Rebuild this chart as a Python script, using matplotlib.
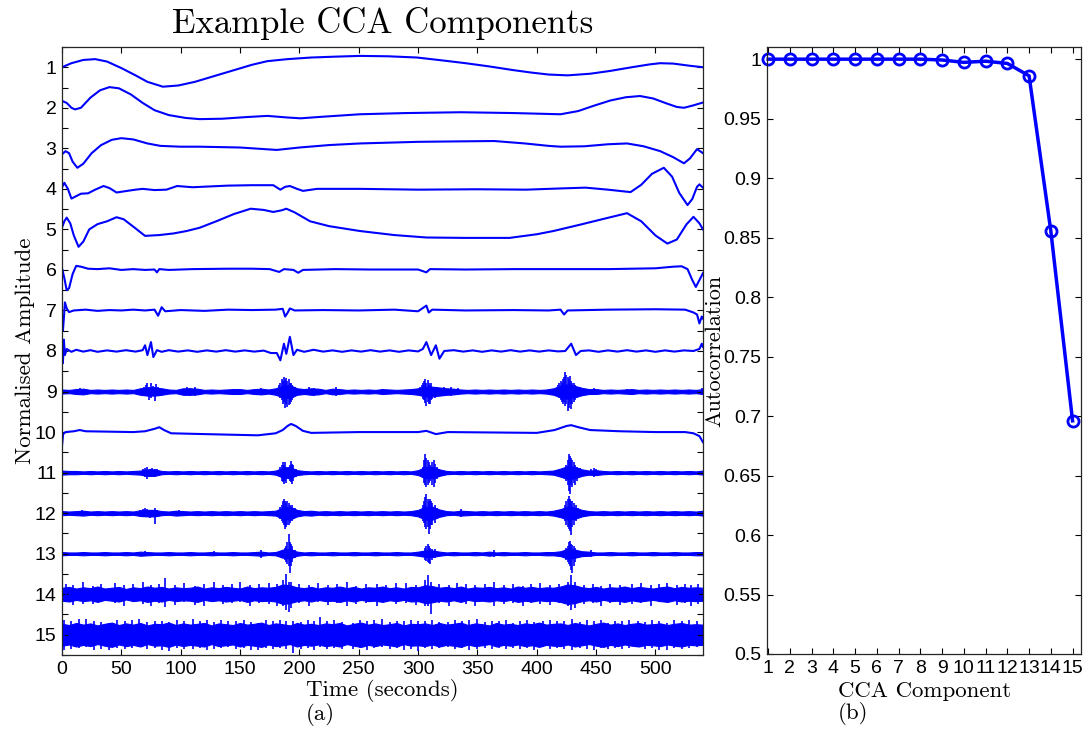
import numpy as np
import matplotlib
matplotlib.use("Agg")
import matplotlib.pyplot as plt
from matplotlib.ticker import MultipleLocator

BLUE = (0, 0, 1)
SERIF = "cmr10"

# ---- panel (a): CCA components, (time s, deviation) ----
tr1 = [(0, 0.0), (8, 0.1), (18, 0.18), (28, 0.2), (38, 0.14), (50, -0.02), (62, -0.2),
       (72, -0.36), (85, -0.48), (98, -0.45), (112, -0.36), (128, -0.22), (144, -0.08),
       (160, 0.06), (173, 0.15), (190, 0.2), (210, 0.24), (229, 0.26), (251, 0.28),
       (275, 0.27), (299, 0.24), (320, 0.17), (340, 0.1), (360, 0.02), (380, -0.07),
       (395, -0.13), (410, -0.18), (426, -0.2), (445, -0.16), (462, -0.09), (480, 0.0),
       (495, 0.07), (504, 0.1), (515, 0.09), (528, 0.04), (540, 0.0)]
tr2 = [(0, 0.17), (4, 0.12), (8, 0.0), (11, -0.04), (16, 0.0), (24, 0.25), (32, 0.43),
       (40, 0.51), (48, 0.48), (58, 0.33), (68, 0.12), (78, -0.06), (90, -0.18),
       (104, -0.25), (116, -0.28), (135, -0.27), (155, -0.23), (173, -0.2), (190, -0.24),
       (201, -0.26), (220, -0.22), (251, -0.16), (290, -0.13), (336, -0.11), (380, -0.13),
       (420, -0.16), (435, -0.08), (448, 0.05), (462, 0.18), (475, 0.26), (487, 0.29),
       (498, 0.23), (510, 0.1), (518, 0.02), (524, 0.0), (532, 0.06), (540, 0.13)]
tr3 = [(0, -0.15), (3, -0.07), (6, -0.12), (9, -0.33), (13, -0.48), (18, -0.38),
       (25, -0.12), (33, 0.08), (42, 0.21), (50, 0.25), (60, 0.22), (72, 0.12), (83, 0.06),
       (100, 0.04), (116, 0.04), (150, 0.02), (181, -0.04), (200, 0.02), (225, 0.08),
       (251, 0.12), (300, 0.16), (330, 0.17), (364, 0.18), (390, 0.12), (410, 0.06),
       (420, 0.04), (440, 0.05), (460, 0.1), (476, 0.12), (490, 0.05), (504, -0.07),
       (515, -0.22), (524, -0.37), (529, -0.25), (535, -0.02), (540, -0.12)]
tr4 = [(0, 0.03), (2, 0.15), (5, 0.0), (8, -0.24), (12, -0.18), (16, -0.12), (22, -0.11),
       (28, -0.02), (35, 0.07), (40, 0.02), (46, -0.09), (55, -0.05), (62, -0.02), (68, 0.0),
       (78, -0.03), (88, -0.02), (97, 0.07), (110, 0.04), (140, 0.08), (160, 0.09),
       (178, 0.09), (184, -0.02), (188, 0.05), (192, 0.07), (198, 0.0), (203, -0.05),
       (215, 0.0), (251, 0.0), (300, -0.02), (350, -0.01), (391, -0.02), (420, 0.01),
       (441, 0.03), (460, -0.02), (479, -0.08), (488, 0.1), (497, 0.37), (507, 0.52),
       (514, 0.3), (520, -0.1), (527, -0.4), (531, -0.25), (535, 0.05), (537, 0.11),
       (540, 0.03)]
tr5 = [(0, 0.04), (2, 0.2), (4, 0.29), (7, 0.15), (10, -0.15), (14, -0.43), (18, -0.3),
       (23, 0.0), (30, 0.13), (38, 0.2), (46, 0.3), (52, 0.25), (60, 0.07), (70, -0.16),
       (82, -0.14), (94, -0.1), (105, -0.04), (116, 0.04), (130, 0.2), (145, 0.38),
       (159, 0.51), (170, 0.48), (178, 0.43), (185, 0.47), (189, 0.51), (196, 0.42),
       (209, 0.2), (225, 0.08), (251, -0.04), (280, -0.14), (307, -0.2), (340, -0.21),
       (377, -0.21), (400, -0.12), (414, -0.04), (437, 0.12), (455, 0.25), (476, 0.4),
       (488, 0.2), (500, -0.15), (510, -0.35), (518, -0.25), (526, 0.12), (532, 0.31),
       (537, 0.15), (540, 0.0)]
tr6 = [(0, 0.05), (2, -0.2), (4, -0.5), (6, -0.45), (9, -0.1), (12, 0.1), (16, 0.08),
       (22, 0.03), (30, 0.02), (40, 0.04), (50, 0.0), (60, 0.02), (70, 0.0), (78, 0.01),
       (80, -0.06), (82, 0.02), (90, 0.0), (110, 0.02), (140, 0.03), (160, 0.03),
       (175, 0.02), (183, -0.05), (187, 0.02), (195, 0.0), (199, -0.07), (203, 0.0),
       (230, 0.02), (260, 0.01), (300, 0.01), (307, -0.06), (310, 0.02), (340, 0.01),
       (380, 0.02), (420, 0.02), (460, 0.02), (500, 0.04), (515, 0.08), (522, 0.09),
       (527, 0.02), (531, -0.25), (534, -0.42), (537, -0.25), (540, -0.08)]
tr7 = [(0, -0.1), (0.8, -0.5), (1.6, -0.2), (2.5, 0.2), (4, 0.05), (6, -0.04), (10, 0.0),
       (20, 0.02), (30, -0.01), (40, 0.01), (50, 0.0), (60, 0.02), (70, 0.0), (78, 0.02),
       (81, -0.13), (84, 0.08), (87, -0.02), (100, 0.01), (120, -0.01), (140, 0.02),
       (160, 0.01), (180, 0.02), (186, 0.04), (188, -0.15), (190, -0.06), (192, 0.05),
       (196, 0.0), (220, 0.01), (250, 0.0), (280, 0.02), (300, -0.02), (305, 0.08),
       (307, 0.12), (309, -0.05), (312, 0.02), (340, 0.0), (380, 0.01), (410, 0.0),
       (420, 0.02), (423, -0.1), (426, 0.0), (460, 0.02), (500, 0.03), (525, 0.02),
       (532, -0.05), (535, -0.1), (537, -0.32), (539, -0.15), (540, -0.2)]
tr8 = [(0, 0.0), (0.8, -0.3), (1.6, 0.28), (2.5, -0.1), (4, 0.05), (8, -0.02), (12, 0.03),
       (18, -0.015), (24, 0.02), (30, -0.02), (38, 0.015), (46, -0.015), (54, 0.02),
       (62, -0.015), (68, 0.02), (70, 0.14), (72, -0.1), (75, 0.22), (77, -0.15), (80, 0.02),
       (84, -0.02), (90, 0.02), (98, -0.015), (106, 0.015), (114, -0.02), (122, 0.015),
       (130, -0.015), (138, 0.02), (146, -0.015), (154, 0.015), (162, -0.015), (170, 0.01),
       (176, -0.05), (181, -0.05), (184, -0.23), (187, 0.18), (189, -0.07), (192, 0.35),
       (195, -0.1), (198, 0.03), (204, -0.02), (212, 0.03), (220, -0.015), (228, 0.015),
       (236, -0.02), (244, 0.015), (252, -0.015), (260, 0.02), (268, -0.015), (276, 0.015),
       (284, -0.02), (292, 0.015), (300, -0.01), (304, 0.05), (307, 0.22), (311, -0.1),
       (315, 0.14), (318, -0.19), (322, 0.0), (330, 0.02), (338, -0.015), (346, 0.015),
       (354, -0.02), (362, 0.015), (370, -0.015), (378, 0.02), (386, -0.015), (394, 0.015),
       (402, -0.015), (410, 0.015), (418, -0.01), (424, 0.0), (429, 0.18), (433, -0.1),
       (437, 0.0), (444, 0.015), (452, -0.02), (460, 0.015), (468, -0.015), (476, 0.02),
       (484, -0.015), (492, 0.015), (500, -0.02), (508, 0.015), (516, -0.015), (524, 0.015),
       (532, 0.0), (537, 0.05), (539, 0.18), (540, 0.1)]
tr10 = [(0, -0.35), (1, -0.05), (3, 0.0), (10, 0.02), (15, 0.05), (20, 0.02), (60, 0.0),
        (70, 0.02), (78, 0.08), (82, 0.12), (86, 0.05), (92, -0.03), (120, -0.05),
        (165, -0.08), (180, -0.03), (186, 0.05), (190, 0.15), (193, 0.2), (197, 0.15),
        (203, 0.03), (210, -0.02), (250, 0.0), (300, 0.0), (307, 0.03), (315, -0.05),
        (325, 0.0), (400, -0.02), (415, 0.05), (425, 0.15), (429, 0.17), (435, 0.12),
        (445, 0.05), (470, 0.02), (500, 0.0), (525, 0.0), (532, -0.03), (537, -0.1),
        (540, -0.25)]

# noisy components: envelope half-width (x0.01) every 6 s, plus spikes (t, up, down)
env_t = np.arange(0, 541, 6)
env9 = [5, 4, 6, 7, 4, 5, 4, 5, 4, 5,
        4, 8, 10, 10, 8, 5, 4, 8, 8, 7,
        4, 5, 4, 5, 6, 6, 4, 6, 7, 5,
        8, 14, 16, 8, 6, 8, 7, 4, 7, 6,
        4, 5, 4, 5, 4, 6, 5, 4, 5, 6,
        8, 12, 12, 10, 8, 7, 5, 4, 5, 4,
        5, 4, 5, 4, 5, 4, 5, 4, 5, 8,
        14, 18, 14, 9, 6, 6, 4, 5, 4, 5,
        6, 4, 5, 4, 5, 4, 5, 4, 5, 4, 6]
env11 = [5, 4, 4, 3, 4, 3, 4, 3, 4, 3,
         4, 5, 8, 8, 4, 3, 4, 3, 4, 3,
         4, 3, 4, 3, 4, 3, 4, 3, 4, 3,
         5, 12, 14, 6, 4, 3, 4, 3, 4, 3,
         4, 3, 4, 3, 4, 3, 4, 3, 4, 3,
         6, 14, 14, 8, 4, 3, 4, 3, 4, 3,
         4, 3, 4, 3, 4, 3, 4, 3, 4, 5,
         10, 16, 14, 8, 5, 6, 4, 3, 4, 3,
         4, 3, 4, 3, 4, 3, 4, 3, 4, 3, 5]
env12 = [5, 4, 5, 6, 4, 5, 4, 5, 4, 5,
         4, 7, 8, 8, 5, 4, 6, 5, 4, 5,
         4, 5, 4, 5, 4, 5, 4, 5, 4, 5,
         6, 14, 16, 8, 5, 6, 4, 5, 4, 5,
         4, 5, 4, 5, 4, 5, 4, 5, 4, 5,
         8, 16, 16, 9, 5, 4, 6, 5, 4, 5,
         4, 5, 4, 5, 4, 5, 4, 5, 4, 6,
         10, 16, 14, 8, 5, 4, 5, 4, 5, 4,
         5, 4, 5, 4, 5, 4, 5, 4, 5, 4, 6]
env13 = [4, 3, 3, 4, 3, 3, 4, 3, 3, 4,
         3, 5, 4, 3, 3, 4, 3, 3, 4, 3,
         3, 4, 3, 3, 4, 3, 3, 4, 5, 3,
         4, 10, 12, 5, 3, 4, 3, 3, 4, 3,
         3, 4, 3, 3, 4, 3, 3, 4, 3, 3,
         5, 8, 8, 5, 3, 4, 3, 3, 4, 3,
         5, 3, 4, 3, 3, 4, 3, 3, 4, 4,
         6, 12, 10, 6, 5, 3, 3, 4, 3, 3,
         4, 3, 3, 4, 3, 3, 4, 3, 3, 4, 4]
env14 = [16, 18, 14, 17, 15, 19, 14, 16, 18, 13,
         17, 15, 19, 16, 18, 14, 17, 15, 16, 19,
         14, 17, 15, 18, 16, 14, 19, 15, 17, 16,
         18, 24, 22, 17, 15, 18, 14, 17, 16, 19,
         15, 18, 14, 17, 16, 19, 15, 17, 14, 18,
         17, 22, 20, 16, 18, 15, 19, 14, 17, 16,
         18, 15, 17, 14, 19, 16, 18, 15, 17, 16,
         19, 24, 22, 17, 15, 18, 14, 17, 16, 19,
         15, 18, 16, 14, 17, 19, 15, 18, 16, 17, 16]
env15 = [27, 24, 29, 25, 28, 23, 27, 30, 24, 28,
         25, 29, 23, 27, 26, 30, 24, 28, 25, 27,
         29, 23, 28, 26, 24, 29, 25, 27, 30, 24,
         28, 26, 23, 29, 25, 27, 24, 28, 26, 29,
         23, 27, 30, 25, 28, 24, 26, 29, 23, 27,
         26, 28, 24, 29, 25, 27, 30, 24, 28, 26,
         23, 29, 25, 27, 24, 28, 26, 30, 25, 27,
         28, 24, 29, 26, 23, 27, 30, 25, 28, 24,
         27, 29, 25, 26, 28, 24, 27, 29, 25, 26, 25]

sp9 = [(15, .08, -.08), (69, .1, -.08), (70.5, .15, -.12), (72, .22, -.1), (73.5, .12, -.2),
       (75, .2, -.15), (76.5, .14, -.1), (78, .1, -.23), (79.5, .18, -.08), (81, .12, -.12),
       (82.5, .08, -.1), (105, .1, -.08), (108, .08, -.1), (112, .1, -.1), (146, .07, -.06),
       (168, .08, -.08), (183, .15, -.12), (184, .2, -.15), (185, .3, -.22), (186, .25, -.3),
       (187, .35, -.25), (188, .28, -.4), (189, .33, -.3), (190, .25, -.38), (191, .3, -.33),
       (192, .2, -.3), (193, .22, -.25), (194, .15, -.2), (195, .12, -.15), (196, .1, -.12),
       (208, .1, -.08), (212, .08, -.1), (231, .1, -.1), (270, .07, -.07), (296, .07, -.07),
       (302, .1, -.08), (303, .15, -.12), (304, .2, -.18), (305, .25, -.2), (306, .3, -.28),
       (307, .22, -.35), (308, .28, -.25), (309, .2, -.3), (310, .15, -.3), (311, .2, -.2),
       (312, .12, -.18), (314, .1, -.15), (316, .12, -.1), (318, .08, -.1), (322, .1, -.08),
       (328, .1, -.1), (334, .08, -.08), (417, .1, -.1), (418, .15, -.12), (419, .2, -.15),
       (420, .25, -.2), (421, .2, -.25), (422, .3, -.3), (423, .35, -.25), (424, .47, -.35),
       (425, .4, -.3), (426, .35, -.48), (427, .3, -.4), (428, .38, -.3), (429, .25, -.42),
       (430, .2, -.3), (431, .22, -.25), (432, .15, -.2), (434, .12, -.15), (436, .1, -.12),
       (448, .08, -.08), (476, .06, -.06), (539, .08, -.08)]
sp11 = [(68, .1, -.08), (70, .12, -.1), (72, .14, -.15), (74, .1, -.12), (76, .12, -.1),
        (78, .08, -.1), (80, .08, -.06), (184, .15, -.12), (185, .2, -.2), (186, .27, -.22),
        (187, .2, -.27), (188, .25, -.2), (189, .15, -.25), (190, .12, -.1), (192, .2, -.2),
        (193, .28, -.22), (194, .22, -.27), (195, .18, -.2), (197, .1, -.1), (304, .15, -.12),
        (305, .3, -.25), (306, .47, -.3), (307, .35, -.36), (308, .3, -.3), (309, .25, -.25),
        (310, .2, -.2), (312, .25, -.3), (313, .3, -.35), (314, .22, -.25), (316, .15, -.15),
        (318, .1, -.1), (425, .2, -.2), (426, .3, -.3), (427, .47, -.45), (428, .4, -.52),
        (429, .35, -.3), (430, .3, -.35), (431, .25, -.25), (432, .2, -.3), (434, .15, -.2),
        (436, .12, -.12), (446, .1, -.08), (448, .12, -.1), (450, .08, -.08)]
sp12 = [(17, .07, -.06), (66, .08, -.08), (68, .1, -.1), (70, .12, -.1), (72, .1, -.08),
        (74, .08, -.12), (78, .12, -.27), (80, .08, -.08), (99, .08, -.08), (184, .15, -.15),
        (185, .2, -.2), (186, .3, -.25), (187, .35, -.3), (188, .3, -.4), (189, .25, -.35),
        (190, .3, -.3), (191, .25, -.3), (192, .2, -.25), (194, .2, -.2), (196, .12, -.12),
        (304, .2, -.2), (305, .3, -.25), (306, .4, -.35), (307, .47, -.4), (308, .35, -.35),
        (309, .3, -.52), (310, .35, -.4), (311, .3, -.3), (312, .25, -.3), (314, .2, -.25),
        (316, .12, -.15), (336, .1, -.1), (424, .2, -.2), (425, .3, -.3), (426, .35, -.35),
        (427, .43, -.4), (428, .35, -.45), (429, .3, -.53), (430, .3, -.35), (431, .25, -.3),
        (433, .2, -.2), (435, .12, -.12)]
sp13 = [(70, .06, -.06), (128, .06, -.05), (168, .1, -.1), (188, .15, -.15), (189, .2, -.2),
        (190, .3, -.25), (191, .48, -.3), (192, .3, -.47), (193, .25, -.3), (194, .2, -.2),
        (196, .1, -.1), (306, .15, -.15), (307, .2, -.18), (308, .23, -.2), (309, .18, -.22),
        (310, .15, -.26), (312, .12, -.15), (314, .12, -.1), (364, .1, -.08), (425, .15, -.15),
        (426, .2, -.2), (427, .28, -.25), (428, .31, -.3), (429, .25, -.4), (430, .22, -.47),
        (431, .2, -.3), (432, .15, -.2), (434, .1, -.1), (446, .08, -.08)]
sp14 = [(3, .25, -.2), (9, .22, -.27), (18, .3, -.25), (26, .2, -.24), (33, .26, -.2),
        (45, .28, -.22), (52, .22, -.28), (60, .25, -.2), (68, .3, -.24), (75, .22, -.3),
        (82, .26, -.22), (87, .39, -.31), (95, .22, -.26), (103, .28, -.2), (112, .2, -.26),
        (120, .25, -.3), (128, .3, -.2), (136, .22, -.25), (143, .26, -.22), (150, .3, -.2),
        (158, .22, -.28), (166, .25, -.22), (174, .28, -.24), (181, .24, -.3), (186, .35, -.3),
        (189, .51, -.4), (191, .3, -.45), (193, .3, -.35), (200, .25, -.22), (208, .22, -.28),
        (216, .28, -.2), (224, .22, -.26), (232, .26, -.22), (240, .3, -.3), (248, .2, -.24),
        (256, .25, -.22), (265, .25, -.28), (273, .22, -.2), (281, .28, -.25), (290, .28, -.22),
        (298, .22, -.26), (306, .35, -.3), (308, .47, -.3), (311, .3, -.48), (318, .25, -.22),
        (326, .22, -.28), (333, .28, -.2), (340, .25, -.25), (348, .22, -.28), (356, .26, -.2),
        (364, .3, -.3), (372, .22, -.25), (380, .26, -.22), (388, .2, -.28), (395, .25, -.22),
        (403, .28, -.24), (411, .22, -.26), (419, .26, -.22), (426, .3, -.3), (429, .47, -.4),
        (432, .3, -.35), (440, .22, -.25), (447, .26, -.22), (454, .2, -.3), (462, .25, -.22),
        (470, .22, -.26), (480, .25, -.25), (488, .28, -.22), (496, .22, -.28), (503, .26, -.2),
        (510, .28, -.2), (518, .22, -.26), (525, .25, -.22), (530, .22, -.3), (536, .26, -.24)]
sp15 = [(2, .36, -.38), (8, .33, -.35), (14, .38, -.32), (20, .4, -.3), (27, .34, -.37),
        (33, .32, -.34), (40, .3, -.38), (46, .36, -.33), (53, .33, -.36), (59, .37, -.32),
        (65, .38, -.3), (72, .32, -.36), (78, .35, -.33), (84, .33, -.37), (90, .32, -.4),
        (97, .37, -.33), (103, .34, -.35), (110, .4, -.35), (116, .33, -.32), (122, .36, -.37),
        (128, .32, -.34), (134, .37, -.32), (140, .35, -.3), (147, .33, -.36), (153, .36, -.33),
        (159, .32, -.37), (165, .3, -.38), (172, .36, -.33), (178, .34, -.36), (184, .37, -.32),
        (189, .33, -.35), (195, .35, -.45), (201, .32, -.34), (207, .36, -.33), (212, .34, -.37),
        (217, .45, -.3), (223, .33, -.35), (229, .37, -.32), (236, .32, -.36), (245, .3, -.35),
        (251, .36, -.33), (257, .33, -.37), (263, .37, -.32), (270, .38, -.3), (276, .32, -.36),
        (282, .35, -.33), (288, .33, -.37), (294, .36, -.34), (300, .35, -.4), (306, .33, -.33),
        (312, .37, -.35), (318, .32, -.32), (325, .32, -.3), (331, .36, -.36), (337, .34, -.33),
        (343, .37, -.37), (350, .4, -.35), (356, .32, -.33), (362, .35, -.36), (368, .33, -.32),
        (374, .37, -.35), (380, .3, -.32), (386, .34, -.36), (392, .36, -.33), (398, .32, -.37),
        (405, .35, -.3), (411, .37, -.35), (417, .33, -.33), (423, .35, -.36), (430, .38, -.38),
        (436, .32, -.33), (442, .36, -.35), (448, .33, -.37), (454, .37, -.32), (460, .3, -.35),
        (466, .35, -.33), (472, .33, -.36), (478, .37, -.32), (485, .35, -.3), (491, .32, -.36),
        (497, .36, -.33), (503, .34, -.37), (510, .3, -.38), (516, .36, -.33), (522, .33, -.35),
        (528, .37, -.32), (535, .35, -.3)]

smooth_traces = {1: tr1, 2: tr2, 3: tr3, 4: tr4, 5: tr5, 6: tr6, 7: tr7, 8: tr8, 10: tr10}
noisy_traces = {9: (env9, sp9), 11: (env11, sp11), 12: (env12, sp12),
                13: (env13, sp13), 14: (env14, sp14), 15: (env15, sp15)}

# ---- panel (b): autocorrelation per component ----
components = list(range(1, 16))
autocorr = [1.0, 1.0, 1.0, 1.0, 1.0, 1.0, 1.0, 1.0, 0.9993, 0.9973, 0.9983, 0.9964,
            0.986, 0.8555, 0.696]
ac_ticks = [0.5, 0.55, 0.6, 0.65, 0.7, 0.75, 0.8, 0.85, 0.9, 0.95, 1.0]
ac_ticklabels = ["0.5", "0.55", "0.6", "0.65", "0.7", "0.75", "0.8", "0.85", "0.9", "0.95", "1"]

plt.rcParams["font.family"] = ["Liberation Sans", "DejaVu Sans"]

fig = plt.figure(figsize=(10.83, 7.34), dpi=100)
ax1 = fig.add_axes([0.0572, 0.1076, 0.5919, 0.8284])
ax2 = fig.add_axes([0.7079, 0.1090, 0.2907, 0.8266])

for k, pts in smooth_traces.items():
    t, v = np.array(pts).T
    ax1.plot(t, k - v, color=BLUE, lw=1.5)

for k, (env, spikes) in noisy_traces.items():
    e = np.array(env) / 100.0
    ax1.fill_between(env_t, k - e, k + e, color=BLUE, lw=0.8)
    st, up, dn = np.array(spikes).T
    ax1.vlines(st, k - up, k - dn, color=BLUE, lw=1.2)

ax1.set_xlim(0, 540)
ax1.set_ylim(15.5, 0.5)
ax1.set_xticks(range(0, 501, 50))
ax1.set_yticks(range(1, 16))
ax1.yaxis.set_minor_locator(MultipleLocator(0.5))
ax1.set_title("Example CCA Components", fontfamily=SERIF, fontsize=25, pad=10)
ax1.set_xlabel("Time (seconds)\n(a)", fontfamily=SERIF, fontsize=16.5,
               multialignment="left", linespacing=1.05)
ax1.xaxis.set_label_coords(0.5, -0.039)
ax1.set_ylabel("Normalised Amplitude", fontfamily=SERIF, fontsize=16.5)
ax1.yaxis.set_label_coords(-0.042, 0.5)

ax2.plot(components, autocorr, "-o", color=BLUE, lw=2.5, ms=8, mfc="none", mew=2,
         clip_on=False)
ax2.set_xlim(0.93, 15.41)
ax2.set_ylim(0.5, 1.01)
ax2.set_xticks(components)
ax2.set_yticks(ac_ticks)
ax2.set_yticklabels(ac_ticklabels)
ax2.set_xlabel("CCA Component\n(b)", fontfamily=SERIF, fontsize=16.5,
               multialignment="left", linespacing=1.05)
ax2.xaxis.set_label_coords(0.5, -0.045)
ax2.set_ylabel("Autocorrelation", fontfamily=SERIF, fontsize=16)
ax2.yaxis.set_label_coords(-0.136, 0.5)

for ax in (ax1, ax2):
    ax.tick_params(which="both", direction="in", length=4.5, width=0.8,
                   top=True, right=True, labelsize=14, pad=4)
    for s in ax.spines.values():
        s.set_color("#262626")
        s.set_linewidth(0.9)

fig.savefig("out.png", dpi=100)
